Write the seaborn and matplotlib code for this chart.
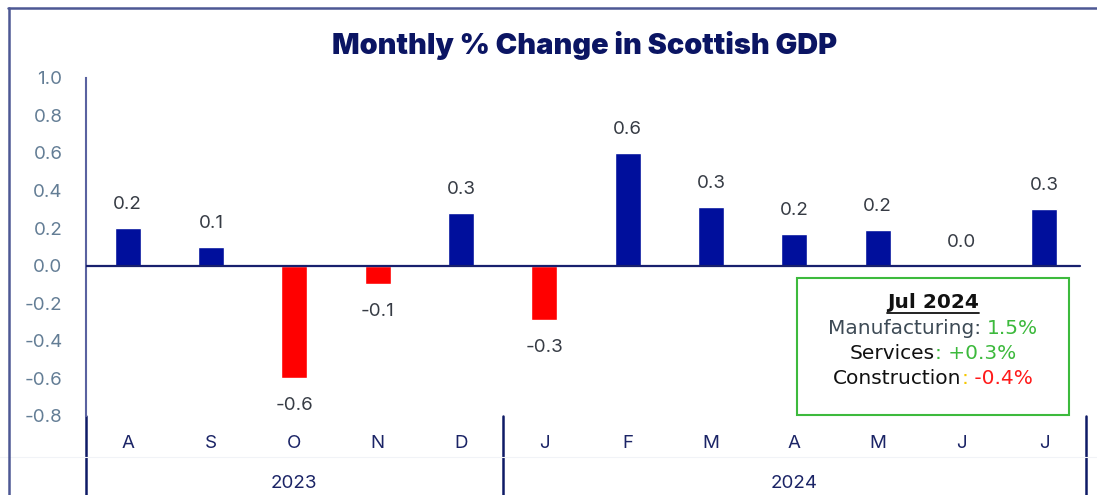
import numpy as np
import pandas as pd
import matplotlib
matplotlib.use("Agg")
import matplotlib.pyplot as plt
from matplotlib.patches import Rectangle
from matplotlib.lines import Line2D
import seaborn as sns

# data
months = ["A", "S", "O", "N", "D", "J", "F", "M", "A", "M", "J", "J"]
years = ["2023"] * 5 + ["2024"] * 7
gdp_change = [0.2, 0.1, -0.6, -0.1, 0.28, -0.29, 0.6, 0.31, 0.17, 0.19, 0.0, 0.3]
year_labels = ["2023", "2024"]
yticks = [-0.8, -0.6, -0.4, -0.2, 0.0, 0.2, 0.4, 0.6, 0.8, 1.0]

BLUE = "#000f9c"
RED = "#ff0000"
NAVY = "#0b1563"
FONT = ["Inter", "DejaVu Sans"]
BOXFONT = ["DejaVu Sans"]

sns.set_theme(style="white")
plt.rcParams["font.family"] = FONT

df = pd.DataFrame({
    "key": [f"{m}{i}" for i, m in enumerate(months)],
    "month": months,
    "year": years,
    "value": gdp_change,
})
df["sign"] = np.where(df["value"] < 0, "neg", "pos")

fig = plt.figure(figsize=(10.97, 4.95), dpi=100)
ax = fig.add_axes([0.0784, 0.1596, 0.9116, 0.6835])

sns.barplot(data=df, x="key", y="value", hue="sign", palette={"pos": BLUE, "neg": RED},
            dodge=False, width=0.31, legend=False, ax=ax, saturation=1)

ax.set_ylim(-0.8, 1.0)
ax.set_xlim(-0.5, len(months) - 0.5)
ax.set_yticks(yticks)
ax.set_yticklabels([f"{v:.1f}" for v in yticks], color="#637d95", fontsize=13.5)
ax.tick_params(axis="y", length=0, pad=17)
ax.set_xticks(range(len(months)))
ax.set_xticklabels([])
ax.tick_params(axis="x", length=0)
ax.set_xlabel("")
ax.set_ylabel("")
for s in ["top", "right", "bottom"]:
    ax.spines[s].set_visible(False)
ax.spines["left"].set_color("#5a62a0")
ax.spines["left"].set_linewidth(1.5)

ax.axhline(0, xmin=0, xmax=0.994, color="#18206e", lw=1.6, zorder=3)

# value labels
for i, v in enumerate(gdp_change):
    off = 17 if v >= 0 else -19.5
    ax.annotate(f"{v:.1f}", (i, v), xytext=(0, off), textcoords="offset points",
                ha="center", va="center", fontsize=13.5, color="#363b44")

# month and year category labels
xt = ax.get_xaxis_transform()
for i, m in enumerate(months):
    ax.text(i, -0.081, m, transform=xt, ha="center", va="center",
            fontsize=13.5, color="#1b2466", clip_on=False)
for yl in year_labels:
    idx = [i for i, y in enumerate(years) if y == yl]
    ax.text(np.mean(idx), -0.199, yl, transform=xt, ha="center", va="center",
            fontsize=13.5, color="#1b2466", clip_on=False)

# separators between the year groups
bounds = [-0.5] + [i + 0.5 for i in range(len(years) - 1) if years[i] != years[i + 1]] + [len(years) - 0.5]
for b in bounds:
    ax.add_line(Line2D([b, b], [0, -0.26], transform=xt, color="#0f1a66", lw=1.8, clip_on=False))

# faint row divider and outer frame
fig.add_artist(Line2D([0, 1], [0.0768, 0.0768], color="#f1f3f7", lw=0.8))
fig.add_artist(Line2D([8 / 1097, 1], [0.9848, 0.9848], color="#4d5894", lw=1.8))
fig.add_artist(Line2D([9 / 1097, 9 / 1097], [0, 0.9848], color="#4d5894", lw=1.8))

fig.text(585 / 1097, 1 - 45 / 495, "Monthly % Change in Scottish GDP", ha="center", va="center",
         fontsize=20.8, fontweight="black", color=NAVY)

# annotation box
fig.add_artist(Rectangle((797 / 1097, 80 / 495), 272 / 1097, 137 / 495, transform=fig.transFigure,
                         facecolor="white", edgecolor="#3dba3d", lw=1.5))

renderer = fig.canvas.get_renderer()


def text_w(s, **kw):
    t = fig.text(0, 0, s, **kw)
    w = t.get_window_extent(renderer).width
    t.remove()
    return w


def colour_line(ypix, parts, cx=933, size=14.5, weight="normal"):
    kw = dict(fontsize=size, fontweight=weight, family=BOXFONT)
    full = "".join(p for p, _ in parts)
    total = text_w(full, **kw)
    x0 = cx - total / 2
    dot = text_w(".", **kw)
    prefix = ""
    for s, c in parts:
        dx = text_w(prefix + ".", **kw) - dot if prefix else 0
        fig.text((x0 + dx) / 1097, 1 - ypix / 495, s, color=c, ha="left", va="center", **kw)
        prefix += s
    return x0, total


x0, w = colour_line(303, [("Jul 2024", "#111111")], weight="bold")
fig.add_artist(Line2D([x0 / 1097, (x0 + w) / 1097], [1 - 313 / 495] * 2, color="#111111", lw=1.3))
colour_line(328, [("Manufacturing: ", "#3d4a55"), ("1.5%", "#3cb93c")])
colour_line(353.5, [("Services", "#111111"), (": +0.3%", "#3cb93c")])
colour_line(378.5, [("Construction", "#111111"), (":", "#f5c800"), (" -0.4%", "#ff1a1a")])

fig.savefig("out.png", dpi=100, facecolor="white")
